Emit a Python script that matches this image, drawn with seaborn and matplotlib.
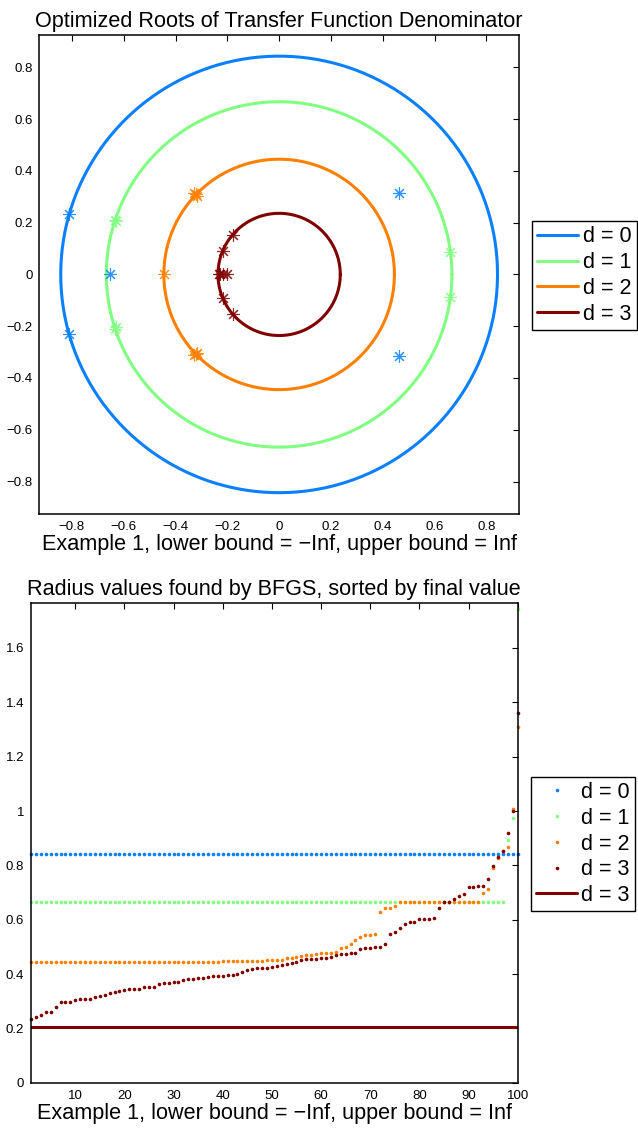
import numpy as np
import pandas as pd
import matplotlib
matplotlib.use("Agg")
import matplotlib.pyplot as plt
import seaborn as sns

# ---------------- data ----------------
labels = ["d = 0", "d = 1", "d = 2", "d = 3"]
colors = ["#0A80FF", "#80FF80", "#FF8000", "#800000"]

# top chart: radius circles and root locations
circle_radius = [0.843, 0.667, 0.445, 0.236]

roots_re_d0 = [-0.810, -0.810, -0.653, 0.463, 0.463]
roots_im_d0 = [0.232, -0.232, 0.000, 0.315, -0.315]
roots_re_d1 = [-0.633, -0.633, -0.630, -0.630, 0.660, 0.660]
roots_im_d1 = [0.210, -0.210, 0.205, -0.205, 0.087, -0.087]
roots_re_d2 = [-0.444, -0.322, -0.322, -0.316, -0.316, -0.327, -0.327]
roots_im_d2 = [0.000, 0.309, -0.309, 0.303, -0.303, 0.313, -0.313]
roots_re_d3 = [-0.179, -0.179, -0.217, -0.217, -0.234, -0.228, -0.215, -0.202]
roots_im_d3 = [0.154, -0.154, 0.090, -0.090, 0.000, 0.000, 0.000, 0.000]

roots_re = [roots_re_d0, roots_re_d1, roots_re_d2, roots_re_d3]
roots_im = [roots_im_d0, roots_im_d1, roots_im_d2, roots_im_d3]

# bottom chart: sorted radius values per run
run_index = list(range(1, 101))
radius_d0 = [0.843] * 100
radius_d1 = [0.667] * 97 + [0.895, 0.976, 1.745]
radius_d2 = ([0.443] * 10 + [0.444] * 10 + [0.445] * 10 + [0.446] * 9
             + [0.447] * 5 + [0.448] * 4 + [0.450] * 2
             + [0.451, 0.4535, 0.4585, 0.4585, 0.461, 0.465, 0.4695, 0.4695,
                0.4757, 0.477, 0.478, 0.479, 0.482, 0.4955, 0.498, 0.511,
                0.527, 0.535, 0.542, 0.545, 0.549, 0.628, 0.643, 0.643, 0.650]
             + [0.667] * 17
             + [0.700, 0.714, 0.789, 0.826, 0.852, 0.869, 1.009, 1.311])
radius_d3 = [0.236, 0.243, 0.248, 0.262, 0.262, 0.280, 0.296, 0.298, 0.298, 0.306,
             0.307, 0.309, 0.309, 0.314, 0.321, 0.324, 0.329, 0.334, 0.336, 0.342,
             0.345, 0.345, 0.346, 0.351, 0.353, 0.353, 0.362, 0.366, 0.367, 0.371,
             0.371, 0.377, 0.383, 0.383, 0.384, 0.387, 0.388, 0.392, 0.393, 0.394,
             0.395, 0.398, 0.401, 0.406, 0.415, 0.418, 0.421, 0.421, 0.423, 0.427,
             0.428, 0.435, 0.438, 0.440, 0.445, 0.451, 0.454, 0.456, 0.457, 0.459,
             0.460, 0.462, 0.469, 0.473, 0.474, 0.477, 0.479, 0.492, 0.496, 0.496,
             0.500, 0.501, 0.510, 0.548, 0.555, 0.569, 0.586, 0.591, 0.593, 0.603,
             0.603, 0.603, 0.605, 0.643, 0.664, 0.666, 0.678, 0.686, 0.693, 0.719,
             0.721, 0.724, 0.725, 0.750, 0.796, 0.830, 0.852, 0.920, 0.999, 1.360]
final_radius_d3 = 0.204
radius_series = [radius_d0, radius_d1, radius_d2, radius_d3]

top_ticks = [-0.8, -0.6, -0.4, -0.2, 0, 0.2, 0.4, 0.6, 0.8]
top_ticklabels = ["\u22120.8", "\u22120.6", "\u22120.4", "\u22120.2", "0", "0.2", "0.4", "0.6", "0.8"]
bottom_xticks = [10, 20, 30, 40, 50, 60, 70, 80, 90, 100]
bottom_yticks = [0, 0.2, 0.4, 0.6, 0.8, 1.0, 1.2, 1.4, 1.6]
bottom_yticklabels = ["0", "0.2", "0.4", "0.6", "0.8", "1", "1.2", "1.4", "1.6"]

title_top = "Optimized Roots of Transfer Function Denominator"
title_bottom = "Radius values found by BFGS, sorted by final value"
xlabel_text = "Example 1, lower bound = \u2212Inf, upper bound = Inf"

# ---------------- style ----------------
sns.set_style("white")
plt.rcParams["font.family"] = ["Liberation Sans", "DejaVu Sans"]
plt.rcParams.update({
    "text.color": "black", "axes.labelcolor": "black",
    "xtick.direction": "in", "ytick.direction": "in",
    "xtick.top": True, "ytick.right": True,
    "xtick.major.size": 4, "ytick.major.size": 4,
    "xtick.major.width": 0.8, "ytick.major.width": 0.8,
    "xtick.color": "black", "ytick.color": "black",
    "xtick.labelsize": 9.5, "ytick.labelsize": 9.5,
    "axes.edgecolor": "black", "axes.linewidth": 1.1,
})

fig = plt.figure(figsize=(6.38, 11.3), dpi=100)

# ---------------- top chart ----------------
ax1 = fig.add_axes([0.0619, 0.5452, 0.7512, 0.4239])
theta = np.linspace(0, 2 * np.pi, 500)
for r, c, lab in zip(circle_radius, colors, labels):
    df = pd.DataFrame({"x": r * np.cos(theta), "y": r * np.sin(theta)})
    sns.lineplot(data=df, x="x", y="y", sort=False, estimator=None,
                 color=c, lw=2.2, label=lab, ax=ax1)
for re_, im_, c in zip(roots_re, roots_im, colors):
    ax1.plot(re_, im_, linestyle="none", marker=(8, 2, 0), markersize=9,
             markeredgewidth=0.8, color=c, alpha=0.85)
ax1.set_xlim(-0.925, 0.925)
ax1.set_ylim(-0.925, 0.925)
ax1.set_xticks(top_ticks)
ax1.set_xticklabels(top_ticklabels)
ax1.set_yticks(top_ticks)
ax1.set_yticklabels(top_ticklabels)
ax1.set_title(title_top, fontsize=15.6, pad=6)
ax1.set_xlabel(xlabel_text, fontsize=15.6, labelpad=1)
ax1.set_ylabel("")
ax1.tick_params(pad=5)
leg1 = ax1.legend(loc="upper left", bbox_to_anchor=(0.834, 0.8044),
                  bbox_transform=fig.transFigure, fontsize=15.5,
                  handlelength=1.9, handletextpad=0.2, borderpad=0.25,
                  labelspacing=0.22, borderaxespad=0, fancybox=False,
                  framealpha=1, edgecolor="black")
leg1.get_frame().set_linewidth(1.0)

# ---------------- bottom chart ----------------
ax2 = fig.add_axes([0.0486, 0.0418, 0.7628, 0.4242])
for vals, c, lab in zip(radius_series, colors, labels):
    df = pd.DataFrame({"run": run_index, "radius": vals})
    sns.lineplot(data=df, x="run", y="radius", estimator=None, sort=False,
                 linestyle="none", marker="o", markersize=2.6,
                 markeredgewidth=0, color=c, label=lab, ax=ax2, clip_on=False)
df_final = pd.DataFrame({"run": run_index, "radius": [final_radius_d3] * len(run_index)})
sns.lineplot(data=df_final, x="run", y="radius", estimator=None, color=colors[3],
             lw=2.2, label=labels[3], ax=ax2)
ax2.set_xlim(1, 100)
ax2.set_ylim(0, 1.764)
ax2.set_xticks(bottom_xticks)
ax2.set_yticks(bottom_yticks)
ax2.set_yticklabels(bottom_yticklabels)
ax2.set_title(title_bottom, fontsize=15.6, pad=6)
ax2.set_xlabel(xlabel_text, fontsize=15.6, labelpad=1)
ax2.set_ylabel("")
ax2.tick_params(pad=5)
leg2 = ax2.legend(loc="upper left", bbox_to_anchor=(0.832, 0.3127),
                  bbox_transform=fig.transFigure, fontsize=15.5,
                  handlelength=1.9, handletextpad=0.2, borderpad=0.25,
                  labelspacing=0.22, borderaxespad=0, fancybox=False,
                  framealpha=1, edgecolor="black", numpoints=1)
leg2.get_frame().set_linewidth(1.0)

fig.savefig("out.png", dpi=100)
